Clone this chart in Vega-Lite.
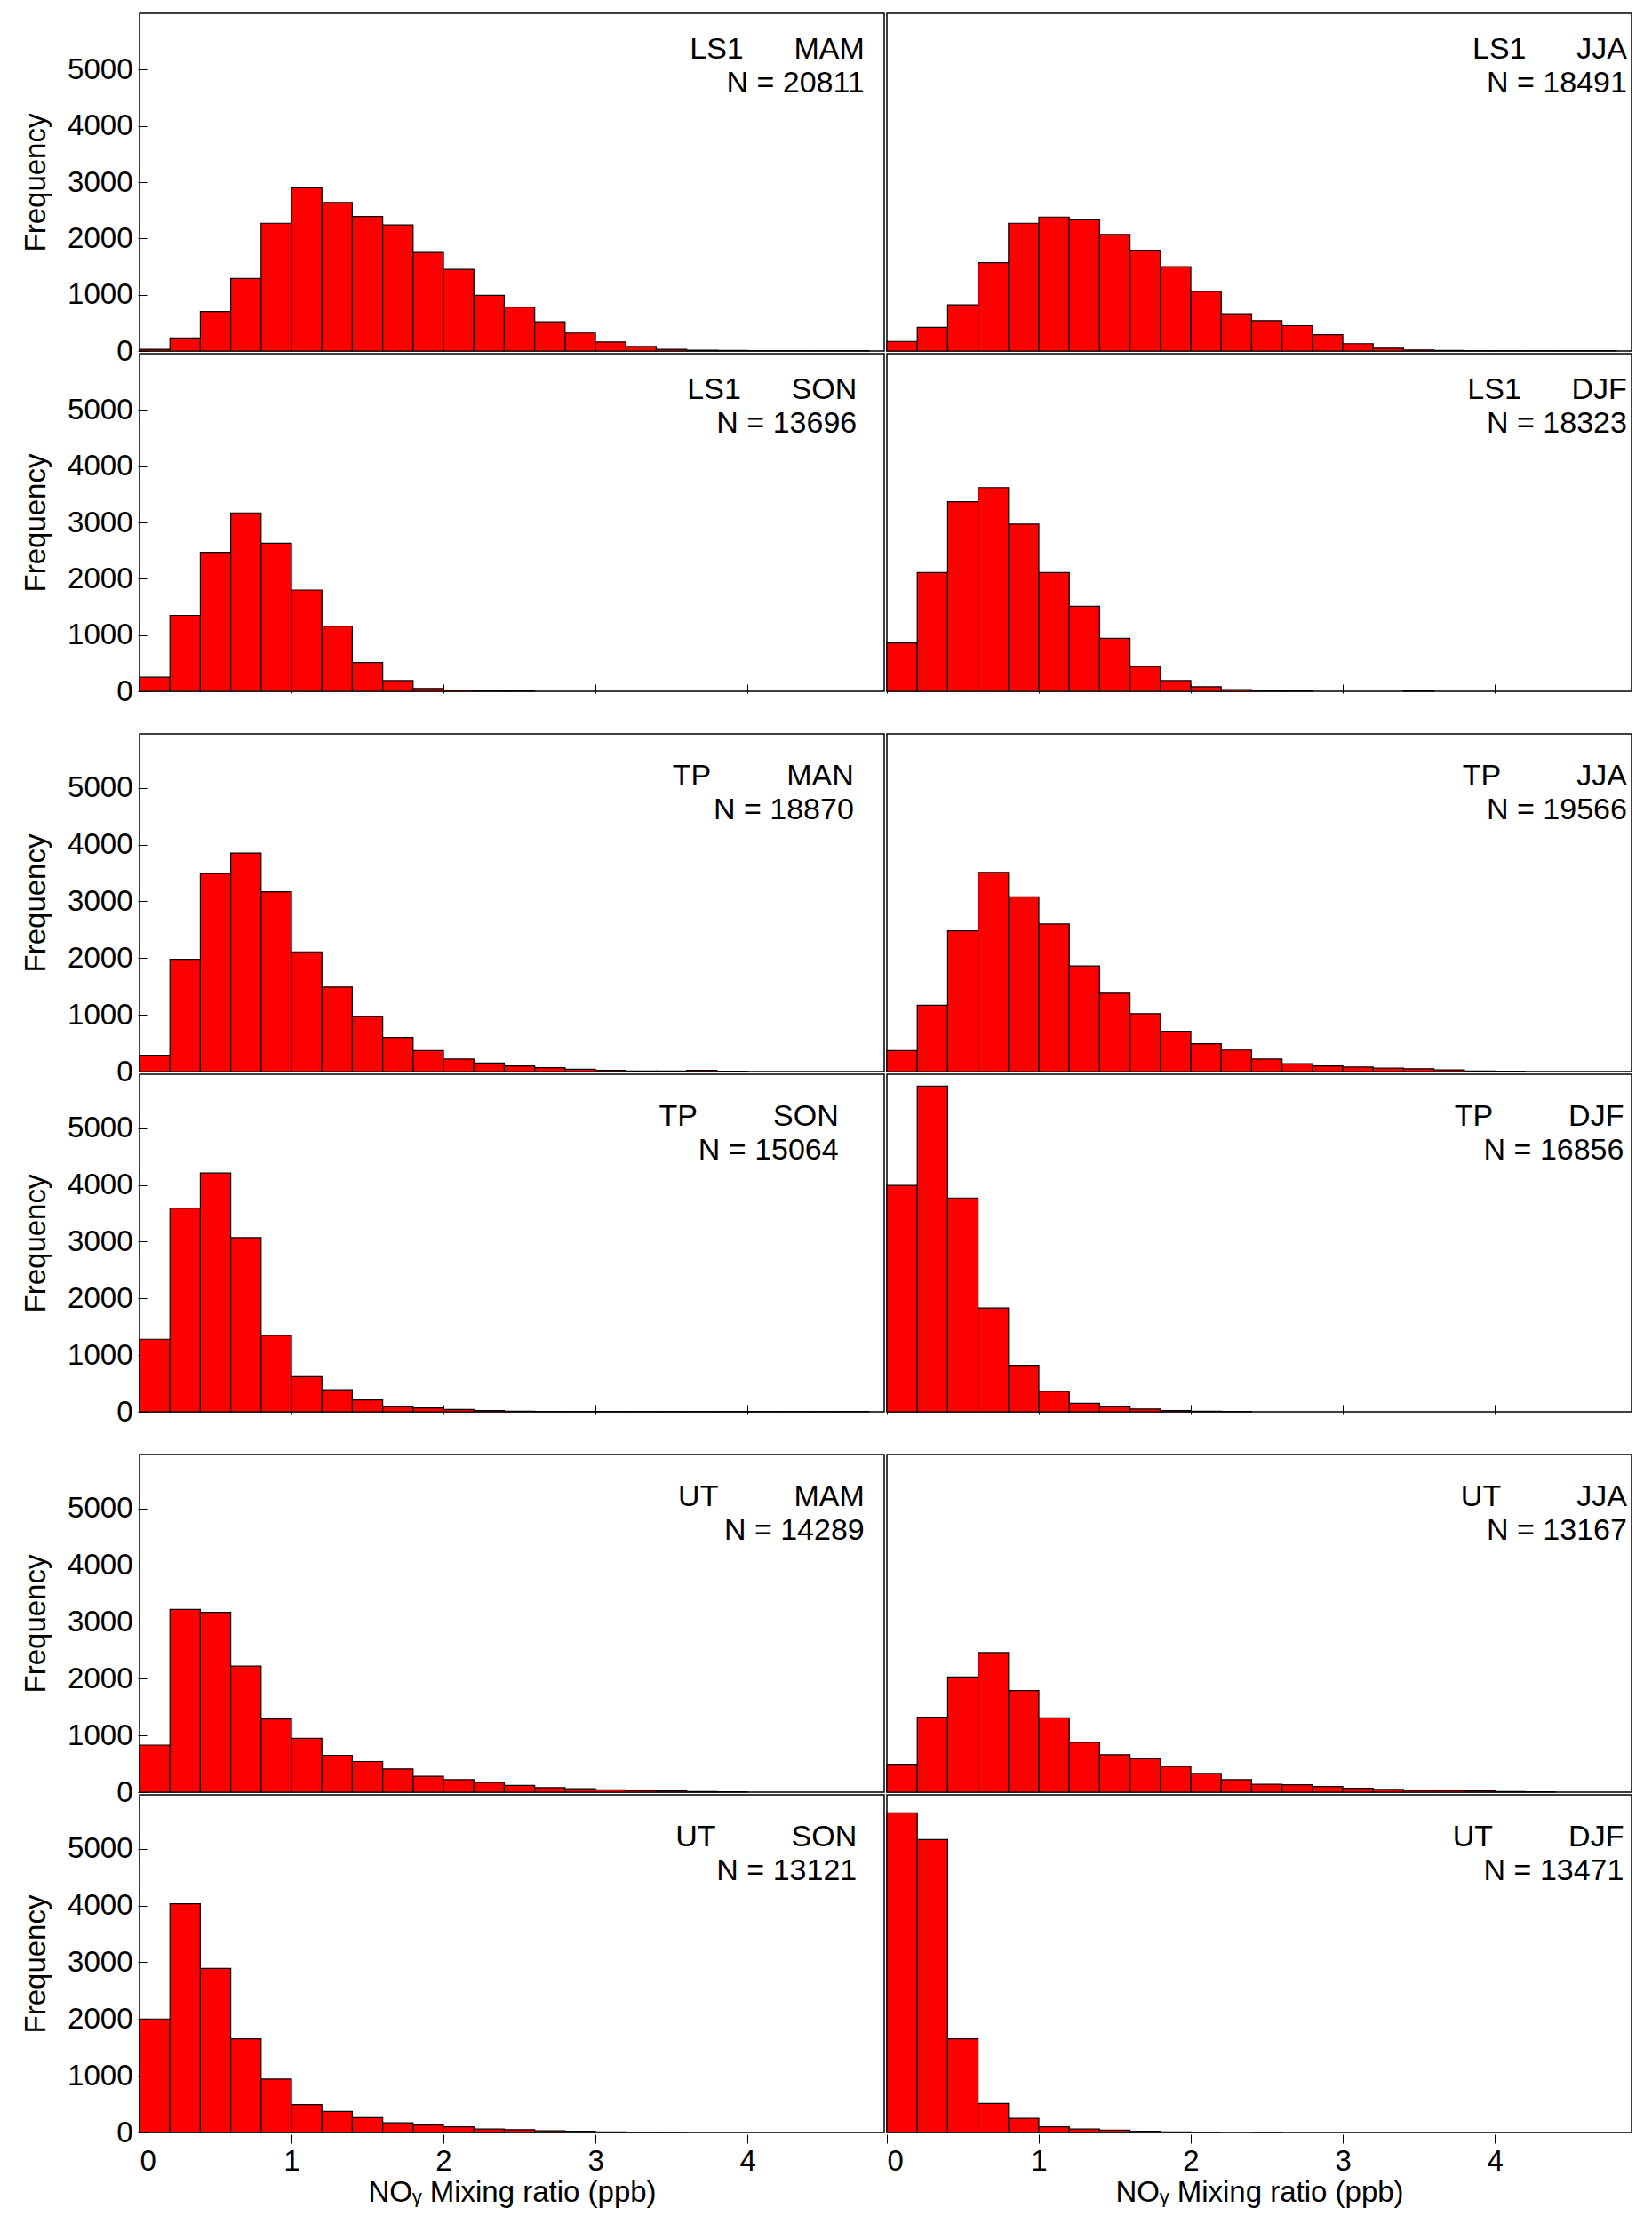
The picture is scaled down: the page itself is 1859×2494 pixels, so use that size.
{
  "$schema": "https://vega.github.io/schema/vega-lite/v6.json",
  "background": "white",
  "padding": {"left": 24, "top": 14, "right": 6, "bottom": 4},
  "config": {
    "font": "Liberation Sans",
    "view": {"stroke": "black", "strokeWidth": 1.5},
    "axis": {"labelFontSize": 33, "titleFontSize": 33, "titleFontWeight": "normal", "labelColor": "black", "titleColor": "black", "domain": false, "grid": false, "tickColor": "black", "tickSize": -10, "labelPadding": 16, "format": "d"},
    "axisY": {"titlePadding": 18},
    "text": {"font": "Liberation Sans", "fontSize": 34, "align": "right"}
  },
  "data": {"values": [
    {"g":"LS1","c":0,"r":0,"x0":0.0,"x1":0.2,"n":30},{"g":"LS1","c":0,"r":0,"x0":0.2,"x1":0.4,"n":230},{"g":"LS1","c":0,"r":0,"x0":0.4,"x1":0.6,"n":700},{"g":"LS1","c":0,"r":0,"x0":0.6,"x1":0.8,"n":1290},{"g":"LS1","c":0,"r":0,"x0":0.8,"x1":1.0,"n":2270},{"g":"LS1","c":0,"r":0,"x0":1.0,"x1":1.2,"n":2900},{"g":"LS1","c":0,"r":0,"x0":1.2,"x1":1.4,"n":2640},{"g":"LS1","c":0,"r":0,"x0":1.4,"x1":1.6,"n":2390},{"g":"LS1","c":0,"r":0,"x0":1.6,"x1":1.8,"n":2240},{"g":"LS1","c":0,"r":0,"x0":1.8,"x1":2.0,"n":1750},{"g":"LS1","c":0,"r":0,"x0":2.0,"x1":2.2,"n":1450},{"g":"LS1","c":0,"r":0,"x0":2.2,"x1":2.4,"n":990},{"g":"LS1","c":0,"r":0,"x0":2.4,"x1":2.6,"n":780},{"g":"LS1","c":0,"r":0,"x0":2.6,"x1":2.8,"n":520},{"g":"LS1","c":0,"r":0,"x0":2.8,"x1":3.0,"n":320},{"g":"LS1","c":0,"r":0,"x0":3.0,"x1":3.2,"n":160},{"g":"LS1","c":0,"r":0,"x0":3.2,"x1":3.4,"n":80},{"g":"LS1","c":0,"r":0,"x0":3.4,"x1":3.6,"n":30},{"g":"LS1","c":0,"r":0,"x0":3.6,"x1":3.8,"n":15},{"g":"LS1","c":0,"r":0,"x0":3.8,"x1":4.0,"n":10},{"g":"LS1","c":0,"r":0,"x0":4.0,"x1":4.2,"n":5},{"g":"LS1","c":0,"r":0,"x0":4.2,"x1":4.4,"n":5},{"g":"LS1","c":0,"r":0,"x0":4.4,"x1":4.6,"n":5},{"g":"LS1","c":0,"r":0,"x0":4.6,"x1":4.8,"n":5},
    {"g":"LS1","c":1,"r":0,"x0":0.0,"x1":0.2,"n":170},{"g":"LS1","c":1,"r":0,"x0":0.2,"x1":0.4,"n":420},{"g":"LS1","c":1,"r":0,"x0":0.4,"x1":0.6,"n":820},{"g":"LS1","c":1,"r":0,"x0":0.6,"x1":0.8,"n":1570},{"g":"LS1","c":1,"r":0,"x0":0.8,"x1":1.0,"n":2270},{"g":"LS1","c":1,"r":0,"x0":1.0,"x1":1.2,"n":2380},{"g":"LS1","c":1,"r":0,"x0":1.2,"x1":1.4,"n":2330},{"g":"LS1","c":1,"r":0,"x0":1.4,"x1":1.6,"n":2070},{"g":"LS1","c":1,"r":0,"x0":1.6,"x1":1.8,"n":1790},{"g":"LS1","c":1,"r":0,"x0":1.8,"x1":2.0,"n":1500},{"g":"LS1","c":1,"r":0,"x0":2.0,"x1":2.2,"n":1060},{"g":"LS1","c":1,"r":0,"x0":2.2,"x1":2.4,"n":660},{"g":"LS1","c":1,"r":0,"x0":2.4,"x1":2.6,"n":540},{"g":"LS1","c":1,"r":0,"x0":2.6,"x1":2.8,"n":450},{"g":"LS1","c":1,"r":0,"x0":2.8,"x1":3.0,"n":290},{"g":"LS1","c":1,"r":0,"x0":3.0,"x1":3.2,"n":130},{"g":"LS1","c":1,"r":0,"x0":3.2,"x1":3.4,"n":50},{"g":"LS1","c":1,"r":0,"x0":3.4,"x1":3.6,"n":20},{"g":"LS1","c":1,"r":0,"x0":3.6,"x1":3.8,"n":10},{"g":"LS1","c":1,"r":0,"x0":3.8,"x1":4.0,"n":5},{"g":"LS1","c":1,"r":0,"x0":4.0,"x1":4.2,"n":5},{"g":"LS1","c":1,"r":0,"x0":4.2,"x1":4.4,"n":5},{"g":"LS1","c":1,"r":0,"x0":4.4,"x1":4.6,"n":5},{"g":"LS1","c":1,"r":0,"x0":4.6,"x1":4.8,"n":5},
    {"g":"LS1","c":0,"r":1,"x0":0.0,"x1":0.2,"n":250},{"g":"LS1","c":0,"r":1,"x0":0.2,"x1":0.4,"n":1350},{"g":"LS1","c":0,"r":1,"x0":0.4,"x1":0.6,"n":2470},{"g":"LS1","c":0,"r":1,"x0":0.6,"x1":0.8,"n":3170},{"g":"LS1","c":0,"r":1,"x0":0.8,"x1":1.0,"n":2630},{"g":"LS1","c":0,"r":1,"x0":1.0,"x1":1.2,"n":1800},{"g":"LS1","c":0,"r":1,"x0":1.2,"x1":1.4,"n":1160},{"g":"LS1","c":0,"r":1,"x0":1.4,"x1":1.6,"n":510},{"g":"LS1","c":0,"r":1,"x0":1.6,"x1":1.8,"n":190},{"g":"LS1","c":0,"r":1,"x0":1.8,"x1":2.0,"n":50},{"g":"LS1","c":0,"r":1,"x0":2.0,"x1":2.2,"n":20},{"g":"LS1","c":0,"r":1,"x0":2.2,"x1":2.4,"n":10},{"g":"LS1","c":0,"r":1,"x0":2.4,"x1":2.6,"n":5},
    {"g":"LS1","c":1,"r":1,"x0":0.0,"x1":0.2,"n":860},{"g":"LS1","c":1,"r":1,"x0":0.2,"x1":0.4,"n":2110},{"g":"LS1","c":1,"r":1,"x0":0.4,"x1":0.6,"n":3370},{"g":"LS1","c":1,"r":1,"x0":0.6,"x1":0.8,"n":3620},{"g":"LS1","c":1,"r":1,"x0":0.8,"x1":1.0,"n":2970},{"g":"LS1","c":1,"r":1,"x0":1.0,"x1":1.2,"n":2110},{"g":"LS1","c":1,"r":1,"x0":1.2,"x1":1.4,"n":1510},{"g":"LS1","c":1,"r":1,"x0":1.4,"x1":1.6,"n":940},{"g":"LS1","c":1,"r":1,"x0":1.6,"x1":1.8,"n":440},{"g":"LS1","c":1,"r":1,"x0":1.8,"x1":2.0,"n":190},{"g":"LS1","c":1,"r":1,"x0":2.0,"x1":2.2,"n":80},{"g":"LS1","c":1,"r":1,"x0":2.2,"x1":2.4,"n":30},{"g":"LS1","c":1,"r":1,"x0":2.4,"x1":2.6,"n":15},{"g":"LS1","c":1,"r":1,"x0":2.6,"x1":2.8,"n":5},{"g":"LS1","c":1,"r":1,"x0":3.4,"x1":3.6,"n":5},
    {"g":"TP","c":0,"r":0,"x0":0.0,"x1":0.2,"n":290},{"g":"TP","c":0,"r":0,"x0":0.2,"x1":0.4,"n":1980},{"g":"TP","c":0,"r":0,"x0":0.4,"x1":0.6,"n":3490},{"g":"TP","c":0,"r":0,"x0":0.6,"x1":0.8,"n":3850},{"g":"TP","c":0,"r":0,"x0":0.8,"x1":1.0,"n":3170},{"g":"TP","c":0,"r":0,"x0":1.0,"x1":1.2,"n":2110},{"g":"TP","c":0,"r":0,"x0":1.2,"x1":1.4,"n":1490},{"g":"TP","c":0,"r":0,"x0":1.4,"x1":1.6,"n":970},{"g":"TP","c":0,"r":0,"x0":1.6,"x1":1.8,"n":600},{"g":"TP","c":0,"r":0,"x0":1.8,"x1":2.0,"n":370},{"g":"TP","c":0,"r":0,"x0":2.0,"x1":2.2,"n":220},{"g":"TP","c":0,"r":0,"x0":2.2,"x1":2.4,"n":150},{"g":"TP","c":0,"r":0,"x0":2.4,"x1":2.6,"n":100},{"g":"TP","c":0,"r":0,"x0":2.6,"x1":2.8,"n":70},{"g":"TP","c":0,"r":0,"x0":2.8,"x1":3.0,"n":40},{"g":"TP","c":0,"r":0,"x0":3.0,"x1":3.2,"n":20},{"g":"TP","c":0,"r":0,"x0":3.2,"x1":3.4,"n":10},{"g":"TP","c":0,"r":0,"x0":3.4,"x1":3.6,"n":10},{"g":"TP","c":0,"r":0,"x0":3.6,"x1":3.8,"n":20},{"g":"TP","c":0,"r":0,"x0":3.8,"x1":4.0,"n":5},
    {"g":"TP","c":1,"r":0,"x0":0.0,"x1":0.2,"n":370},{"g":"TP","c":1,"r":0,"x0":0.2,"x1":0.4,"n":1170},{"g":"TP","c":1,"r":0,"x0":0.4,"x1":0.6,"n":2480},{"g":"TP","c":1,"r":0,"x0":0.6,"x1":0.8,"n":3510},{"g":"TP","c":1,"r":0,"x0":0.8,"x1":1.0,"n":3080},{"g":"TP","c":1,"r":0,"x0":1.0,"x1":1.2,"n":2600},{"g":"TP","c":1,"r":0,"x0":1.2,"x1":1.4,"n":1860},{"g":"TP","c":1,"r":0,"x0":1.4,"x1":1.6,"n":1380},{"g":"TP","c":1,"r":0,"x0":1.6,"x1":1.8,"n":1020},{"g":"TP","c":1,"r":0,"x0":1.8,"x1":2.0,"n":710},{"g":"TP","c":1,"r":0,"x0":2.0,"x1":2.2,"n":490},{"g":"TP","c":1,"r":0,"x0":2.2,"x1":2.4,"n":380},{"g":"TP","c":1,"r":0,"x0":2.4,"x1":2.6,"n":220},{"g":"TP","c":1,"r":0,"x0":2.6,"x1":2.8,"n":140},{"g":"TP","c":1,"r":0,"x0":2.8,"x1":3.0,"n":100},{"g":"TP","c":1,"r":0,"x0":3.0,"x1":3.2,"n":80},{"g":"TP","c":1,"r":0,"x0":3.2,"x1":3.4,"n":60},{"g":"TP","c":1,"r":0,"x0":3.4,"x1":3.6,"n":50},{"g":"TP","c":1,"r":0,"x0":3.6,"x1":3.8,"n":30},{"g":"TP","c":1,"r":0,"x0":3.8,"x1":4.0,"n":10},{"g":"TP","c":1,"r":0,"x0":4.0,"x1":4.2,"n":5},
    {"g":"TP","c":0,"r":1,"x0":0.0,"x1":0.2,"n":1280},{"g":"TP","c":0,"r":1,"x0":0.2,"x1":0.4,"n":3590},{"g":"TP","c":0,"r":1,"x0":0.4,"x1":0.6,"n":4210},{"g":"TP","c":0,"r":1,"x0":0.6,"x1":0.8,"n":3070},{"g":"TP","c":0,"r":1,"x0":0.8,"x1":1.0,"n":1350},{"g":"TP","c":0,"r":1,"x0":1.0,"x1":1.2,"n":620},{"g":"TP","c":0,"r":1,"x0":1.2,"x1":1.4,"n":390},{"g":"TP","c":0,"r":1,"x0":1.4,"x1":1.6,"n":210},{"g":"TP","c":0,"r":1,"x0":1.6,"x1":1.8,"n":100},{"g":"TP","c":0,"r":1,"x0":1.8,"x1":2.0,"n":70},{"g":"TP","c":0,"r":1,"x0":2.0,"x1":2.2,"n":40},{"g":"TP","c":0,"r":1,"x0":2.2,"x1":2.4,"n":20},{"g":"TP","c":0,"r":1,"x0":2.4,"x1":2.6,"n":10},{"g":"TP","c":0,"r":1,"x0":2.6,"x1":2.8,"n":5},{"g":"TP","c":0,"r":1,"x0":2.8,"x1":3.0,"n":5},{"g":"TP","c":0,"r":1,"x0":3.0,"x1":3.2,"n":5},{"g":"TP","c":0,"r":1,"x0":3.2,"x1":3.4,"n":5},{"g":"TP","c":0,"r":1,"x0":3.4,"x1":3.6,"n":5},{"g":"TP","c":0,"r":1,"x0":3.6,"x1":3.8,"n":5},{"g":"TP","c":0,"r":1,"x0":3.8,"x1":4.0,"n":5},{"g":"TP","c":0,"r":1,"x0":4.0,"x1":4.2,"n":5},{"g":"TP","c":0,"r":1,"x0":4.2,"x1":4.4,"n":5},{"g":"TP","c":0,"r":1,"x0":4.4,"x1":4.6,"n":5},{"g":"TP","c":0,"r":1,"x0":4.6,"x1":4.8,"n":5},
    {"g":"TP","c":1,"r":1,"x0":0.0,"x1":0.2,"n":3990},{"g":"TP","c":1,"r":1,"x0":0.2,"x1":0.4,"n":5740},{"g":"TP","c":1,"r":1,"x0":0.4,"x1":0.6,"n":3770},{"g":"TP","c":1,"r":1,"x0":0.6,"x1":0.8,"n":1830},{"g":"TP","c":1,"r":1,"x0":0.8,"x1":1.0,"n":820},{"g":"TP","c":1,"r":1,"x0":1.0,"x1":1.2,"n":360},{"g":"TP","c":1,"r":1,"x0":1.2,"x1":1.4,"n":150},{"g":"TP","c":1,"r":1,"x0":1.4,"x1":1.6,"n":100},{"g":"TP","c":1,"r":1,"x0":1.6,"x1":1.8,"n":50},{"g":"TP","c":1,"r":1,"x0":1.8,"x1":2.0,"n":20},{"g":"TP","c":1,"r":1,"x0":2.0,"x1":2.2,"n":10},{"g":"TP","c":1,"r":1,"x0":2.2,"x1":2.4,"n":5},
    {"g":"UT","c":0,"r":0,"x0":0.0,"x1":0.2,"n":830},{"g":"UT","c":0,"r":0,"x0":0.2,"x1":0.4,"n":3220},{"g":"UT","c":0,"r":0,"x0":0.4,"x1":0.6,"n":3170},{"g":"UT","c":0,"r":0,"x0":0.6,"x1":0.8,"n":2220},{"g":"UT","c":0,"r":0,"x0":0.8,"x1":1.0,"n":1290},{"g":"UT","c":0,"r":0,"x0":1.0,"x1":1.2,"n":950},{"g":"UT","c":0,"r":0,"x0":1.2,"x1":1.4,"n":650},{"g":"UT","c":0,"r":0,"x0":1.4,"x1":1.6,"n":540},{"g":"UT","c":0,"r":0,"x0":1.6,"x1":1.8,"n":410},{"g":"UT","c":0,"r":0,"x0":1.8,"x1":2.0,"n":280},{"g":"UT","c":0,"r":0,"x0":2.0,"x1":2.2,"n":220},{"g":"UT","c":0,"r":0,"x0":2.2,"x1":2.4,"n":170},{"g":"UT","c":0,"r":0,"x0":2.4,"x1":2.6,"n":120},{"g":"UT","c":0,"r":0,"x0":2.6,"x1":2.8,"n":80},{"g":"UT","c":0,"r":0,"x0":2.8,"x1":3.0,"n":60},{"g":"UT","c":0,"r":0,"x0":3.0,"x1":3.2,"n":40},{"g":"UT","c":0,"r":0,"x0":3.2,"x1":3.4,"n":30},{"g":"UT","c":0,"r":0,"x0":3.4,"x1":3.6,"n":20},{"g":"UT","c":0,"r":0,"x0":3.6,"x1":3.8,"n":10},{"g":"UT","c":0,"r":0,"x0":3.8,"x1":4.0,"n":5},
    {"g":"UT","c":1,"r":0,"x0":0.0,"x1":0.2,"n":490},{"g":"UT","c":1,"r":0,"x0":0.2,"x1":0.4,"n":1320},{"g":"UT","c":1,"r":0,"x0":0.4,"x1":0.6,"n":2030},{"g":"UT","c":1,"r":0,"x0":0.6,"x1":0.8,"n":2460},{"g":"UT","c":1,"r":0,"x0":0.8,"x1":1.0,"n":1790},{"g":"UT","c":1,"r":0,"x0":1.0,"x1":1.2,"n":1310},{"g":"UT","c":1,"r":0,"x0":1.2,"x1":1.4,"n":880},{"g":"UT","c":1,"r":0,"x0":1.4,"x1":1.6,"n":660},{"g":"UT","c":1,"r":0,"x0":1.6,"x1":1.8,"n":590},{"g":"UT","c":1,"r":0,"x0":1.8,"x1":2.0,"n":450},{"g":"UT","c":1,"r":0,"x0":2.0,"x1":2.2,"n":330},{"g":"UT","c":1,"r":0,"x0":2.2,"x1":2.4,"n":220},{"g":"UT","c":1,"r":0,"x0":2.4,"x1":2.6,"n":140},{"g":"UT","c":1,"r":0,"x0":2.6,"x1":2.8,"n":130},{"g":"UT","c":1,"r":0,"x0":2.8,"x1":3.0,"n":100},{"g":"UT","c":1,"r":0,"x0":3.0,"x1":3.2,"n":70},{"g":"UT","c":1,"r":0,"x0":3.2,"x1":3.4,"n":50},{"g":"UT","c":1,"r":0,"x0":3.4,"x1":3.6,"n":30},{"g":"UT","c":1,"r":0,"x0":3.6,"x1":3.8,"n":30},{"g":"UT","c":1,"r":0,"x0":3.8,"x1":4.0,"n":20},{"g":"UT","c":1,"r":0,"x0":4.0,"x1":4.2,"n":10},{"g":"UT","c":1,"r":0,"x0":4.2,"x1":4.4,"n":5},
    {"g":"UT","c":0,"r":1,"x0":0.0,"x1":0.2,"n":2000},{"g":"UT","c":0,"r":1,"x0":0.2,"x1":0.4,"n":4030},{"g":"UT","c":0,"r":1,"x0":0.4,"x1":0.6,"n":2890},{"g":"UT","c":0,"r":1,"x0":0.6,"x1":0.8,"n":1650},{"g":"UT","c":0,"r":1,"x0":0.8,"x1":1.0,"n":940},{"g":"UT","c":0,"r":1,"x0":1.0,"x1":1.2,"n":490},{"g":"UT","c":0,"r":1,"x0":1.2,"x1":1.4,"n":370},{"g":"UT","c":0,"r":1,"x0":1.4,"x1":1.6,"n":260},{"g":"UT","c":0,"r":1,"x0":1.6,"x1":1.8,"n":170},{"g":"UT","c":0,"r":1,"x0":1.8,"x1":2.0,"n":130},{"g":"UT","c":0,"r":1,"x0":2.0,"x1":2.2,"n":100},{"g":"UT","c":0,"r":1,"x0":2.2,"x1":2.4,"n":60},{"g":"UT","c":0,"r":1,"x0":2.4,"x1":2.6,"n":50},{"g":"UT","c":0,"r":1,"x0":2.6,"x1":2.8,"n":30},{"g":"UT","c":0,"r":1,"x0":2.8,"x1":3.0,"n":20},{"g":"UT","c":0,"r":1,"x0":3.0,"x1":3.2,"n":10},{"g":"UT","c":0,"r":1,"x0":3.2,"x1":3.4,"n":5},{"g":"UT","c":0,"r":1,"x0":3.4,"x1":3.6,"n":5},
    {"g":"UT","c":1,"r":1,"x0":0.0,"x1":0.2,"n":5630},{"g":"UT","c":1,"r":1,"x0":0.2,"x1":0.4,"n":5160},{"g":"UT","c":1,"r":1,"x0":0.4,"x1":0.6,"n":1650},{"g":"UT","c":1,"r":1,"x0":0.6,"x1":0.8,"n":510},{"g":"UT","c":1,"r":1,"x0":0.8,"x1":1.0,"n":250},{"g":"UT","c":1,"r":1,"x0":1.0,"x1":1.2,"n":100},{"g":"UT","c":1,"r":1,"x0":1.2,"x1":1.4,"n":60},{"g":"UT","c":1,"r":1,"x0":1.4,"x1":1.6,"n":40},{"g":"UT","c":1,"r":1,"x0":1.6,"x1":1.8,"n":20},{"g":"UT","c":1,"r":1,"x0":1.8,"x1":2.0,"n":10},{"g":"UT","c":1,"r":1,"x0":2.0,"x1":2.2,"n":5},{"g":"UT","c":1,"r":1,"x0":2.4,"x1":2.6,"n":5},
    {"g":"LS1","c":0,"r":0,"t1":"LS1\u00a0\u00a0\u00a0\u00a0\u00a0\u00a0MAM","t2":"N = 20811","tx":4.77},
    {"g":"LS1","c":1,"r":0,"t1":"LS1\u00a0\u00a0\u00a0\u00a0\u00a0\u00a0JJA","t2":"N = 18491","tx":4.87},
    {"g":"LS1","c":0,"r":1,"t1":"LS1\u00a0\u00a0\u00a0\u00a0\u00a0\u00a0SON","t2":"N = 13696","tx":4.72},
    {"g":"LS1","c":1,"r":1,"t1":"LS1\u00a0\u00a0\u00a0\u00a0\u00a0\u00a0DJF","t2":"N = 18323","tx":4.87},
    {"g":"TP","c":0,"r":0,"t1":"TP\u00a0\u00a0\u00a0\u00a0\u00a0\u00a0\u00a0\u00a0\u00a0MAN","t2":"N = 18870","tx":4.7},
    {"g":"TP","c":1,"r":0,"t1":"TP\u00a0\u00a0\u00a0\u00a0\u00a0\u00a0\u00a0\u00a0\u00a0JJA","t2":"N = 19566","tx":4.87},
    {"g":"TP","c":0,"r":1,"t1":"TP\u00a0\u00a0\u00a0\u00a0\u00a0\u00a0\u00a0\u00a0\u00a0SON","t2":"N = 15064","tx":4.6},
    {"g":"TP","c":1,"r":1,"t1":"TP\u00a0\u00a0\u00a0\u00a0\u00a0\u00a0\u00a0\u00a0\u00a0DJF","t2":"N = 16856","tx":4.85},
    {"g":"UT","c":0,"r":0,"t1":"UT\u00a0\u00a0\u00a0\u00a0\u00a0\u00a0\u00a0\u00a0\u00a0MAM","t2":"N = 14289","tx":4.77},
    {"g":"UT","c":1,"r":0,"t1":"UT\u00a0\u00a0\u00a0\u00a0\u00a0\u00a0\u00a0\u00a0\u00a0JJA","t2":"N = 13167","tx":4.87},
    {"g":"UT","c":0,"r":1,"t1":"UT\u00a0\u00a0\u00a0\u00a0\u00a0\u00a0\u00a0\u00a0\u00a0SON","t2":"N = 13121","tx":4.72},
    {"g":"UT","c":1,"r":1,"t1":"UT\u00a0\u00a0\u00a0\u00a0\u00a0\u00a0\u00a0\u00a0\u00a0DJF","t2":"N = 13471","tx":4.85}
  ]},
  "vconcat": [
    {
      "transform": [{"filter": "datum.g === 'LS1'"}],
      "facet": {"row": {"field": "r", "header": null}, "column": {"field": "c", "header": null}},
      "spacing": 0,
      "spec": {
        "width": 838, "height": 380,
        "layer": [
          {"transform": [{"filter": "isValid(datum.n)"}], "mark": {"type": "bar", "fill": "#ff0000", "stroke": "black", "strokeWidth": 1.2},
           "encoding": {
             "x": {"field": "x0", "type": "quantitative", "scale": {"domain": [0, 4.9], "nice": false}, "axis": {"values": [0,1,2,3,4], "labels": false, "title": null}},
             "x2": {"field": "x1"},
             "y": {"field": "n", "type": "quantitative", "scale": {"domain": [0, 6000], "nice": false}, "axis": {"values": [0,1000,2000,3000,4000,5000], "title": "Frequency"}},
             "y2": {"datum": 0}}},
          {"transform": [{"filter": "isValid(datum.t1)"}], "mark": {"type": "text", "baseline": "middle"},
           "encoding": {"x": {"field": "tx", "type": "quantitative"}, "y": {"datum": 5350}, "text": {"field": "t1"}}},
          {"transform": [{"filter": "isValid(datum.t1)"}], "mark": {"type": "text", "baseline": "middle"},
           "encoding": {"x": {"field": "tx", "type": "quantitative"}, "y": {"datum": 4750}, "text": {"field": "t2"}}}
        ]
      }
    },
    {
      "transform": [{"filter": "datum.g === 'TP'"}],
      "facet": {"row": {"field": "r", "header": null}, "column": {"field": "c", "header": null}},
      "spacing": 0,
      "spec": {
        "width": 838, "height": 380,
        "layer": [
          {"transform": [{"filter": "isValid(datum.n)"}], "mark": {"type": "bar", "fill": "#ff0000", "stroke": "black", "strokeWidth": 1.2},
           "encoding": {
             "x": {"field": "x0", "type": "quantitative", "scale": {"domain": [0, 4.9], "nice": false}, "axis": {"values": [0,1,2,3,4], "labels": false, "title": null}},
             "x2": {"field": "x1"},
             "y": {"field": "n", "type": "quantitative", "scale": {"domain": [0, 5950], "nice": false}, "axis": {"values": [0,1000,2000,3000,4000,5000], "title": "Frequency"}},
             "y2": {"datum": 0}}},
          {"transform": [{"filter": "isValid(datum.t1)"}], "mark": {"type": "text", "baseline": "middle"},
           "encoding": {"x": {"field": "tx", "type": "quantitative"}, "y": {"datum": 5200}, "text": {"field": "t1"}}},
          {"transform": [{"filter": "isValid(datum.t1)"}], "mark": {"type": "text", "baseline": "middle"},
           "encoding": {"x": {"field": "tx", "type": "quantitative"}, "y": {"datum": 4600}, "text": {"field": "t2"}}}
        ]
      }
    },
    {
      "transform": [{"filter": "datum.g === 'UT'"}],
      "facet": {"row": {"field": "r", "header": null}, "column": {"field": "c", "header": null}},
      "spacing": 0,
      "spec": {
        "width": 838, "height": 380,
        "layer": [
          {"transform": [{"filter": "isValid(datum.n)"}], "mark": {"type": "bar", "fill": "#ff0000", "stroke": "black", "strokeWidth": 1.2},
           "encoding": {
             "x": {"field": "x0", "type": "quantitative", "scale": {"domain": [0, 4.9], "nice": false}, "axis": {"values": [0,1,2,3,4], "title": "NOᵧ Mixing ratio (ppb)", "tickSize": 10, "labelPadding": 4, "titlePadding": 2}},
             "x2": {"field": "x1"},
             "y": {"field": "n", "type": "quantitative", "scale": {"domain": [0, 5950], "nice": false}, "axis": {"values": [0,1000,2000,3000,4000,5000], "title": "Frequency"}},
             "y2": {"datum": 0}}},
          {"transform": [{"filter": "isValid(datum.t1)"}], "mark": {"type": "text", "baseline": "middle"},
           "encoding": {"x": {"field": "tx", "type": "quantitative"}, "y": {"datum": 5200}, "text": {"field": "t1"}}},
          {"transform": [{"filter": "isValid(datum.t1)"}], "mark": {"type": "text", "baseline": "middle"},
           "encoding": {"x": {"field": "tx", "type": "quantitative"}, "y": {"datum": 4600}, "text": {"field": "t2"}}}
        ]
      }
    }
  ],
  "spacing": 30
}
